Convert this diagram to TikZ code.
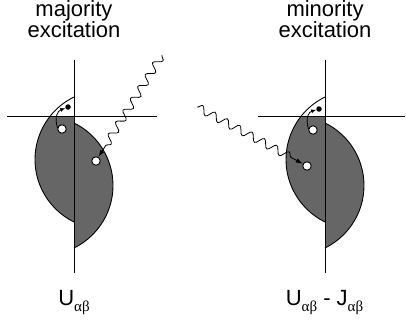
\documentclass[tikz,border=0pt]{standalone}
\usepackage{fontspec}
\setmainfont{Liberation Sans}
\newfontfamily\grk{Liberation Serif}
\usetikzlibrary{arrows.meta,decorations.pathmorphing}
\begin{document}
\begin{tikzpicture}[x=1pt,y=-1pt,
  axis/.style={line width=1pt},
  band/.style={fill=black!60},
  outline/.style={line width=0.9pt},
  hole/.style={circle,draw,fill=white,line width=0.9pt,inner sep=0pt,minimum size=8.5pt},
  elec/.style={circle,fill=black,inner sep=0pt,minimum size=5.5pt},
  hop/.style={line width=0.8pt,-{Latex[length=5pt,width=4pt]}},
  photon/.style={line width=0.8pt,decorate,decoration={snake,amplitude=4pt,segment length=14pt,post length=9pt},-{Latex[length=7pt,width=4.5pt]}},
  txt/.style={font=\fontsize{22}{22}\selectfont,inner sep=0pt,anchor=base}]
\useasboundingbox (0,0) rectangle (406,326);

% ---------------- left panel (majority) ----------------
\begin{scope}[shift={(74,0)}]
  \begin{scope}
    \clip (-80,116) rectangle (80,300);
    \fill[band] (0,97) arc[start angle=243.9, end angle=116.1, radius=69.6] -- cycle;
  \end{scope}
  \fill[band] (0,123) arc[start angle=-63.9, end angle=63.9, radius=69.6] -- cycle;
  \draw[outline] (0,97) arc[start angle=243.9, end angle=116.1, radius=69.6];
  \draw[outline] (0,123) arc[start angle=-63.9, end angle=63.9, radius=69.6];
  \draw[axis] (0,60) -- (0,273);
  \draw[axis] (-67,116) -- (83,116);
\end{scope}
\node[hole] (hL1) at (62,129) {};
\node[hole] (hL2) at (96,161) {};
\node[elec] (eL) at (68,107) {};
\coordinate (pL) at (162,55);
\draw[hop] (hL1.165) .. controls (54,116) and (58,111) .. (eL);
\draw[photon] (pL) -- (hL2);

% ---------------- right panel (minority) ----------------
\begin{scope}[shift={(325,0)}]
  \begin{scope}
    \clip (-80,116) rectangle (80,300);
    \fill[band] (0,97) arc[start angle=243.9, end angle=116.1, radius=69.6] -- cycle;
  \end{scope}
  \fill[band] (0,123) arc[start angle=-63.9, end angle=63.9, radius=69.6] -- cycle;
  \draw[outline] (0,97) arc[start angle=243.9, end angle=116.1, radius=69.6];
  \draw[outline] (0,123) arc[start angle=-63.9, end angle=63.9, radius=69.6];
  \draw[axis] (0,60) -- (0,273);
  \draw[axis] (-67,116) -- (80,116);
\end{scope}
\node[hole] (hR1) at (313,130) {};
\node[hole] (hR2) at (307,166) {};
\node[elec] (eR) at (319,109) {};
\coordinate (pR) at (197,107);
\draw[hop] (hR1.165) .. controls (305,117) and (309,112) .. (eR);
\draw[photon] (pR) -- (hR2);

% ---------------- labels ----------------
\node[txt] (tL1) at (74,17) {majority};
\node[txt] (tL2) at (74,38) {excitation};
\node[txt] (tR1) at (325,17) {minority};
\node[txt] (tR2) at (325,38) {excitation};
\node[txt] (bL) at (74,305) {U\raisebox{-6pt}{\fontsize{15}{15}\selectfont\grk αβ}};
\node[txt] (bR) at (324.5,305) {U\raisebox{-6pt}{\fontsize{15}{15}\selectfont\grk αβ} - J\raisebox{-6pt}{\fontsize{15}{15}\selectfont\grk αβ}};
\end{tikzpicture}
\end{document}
